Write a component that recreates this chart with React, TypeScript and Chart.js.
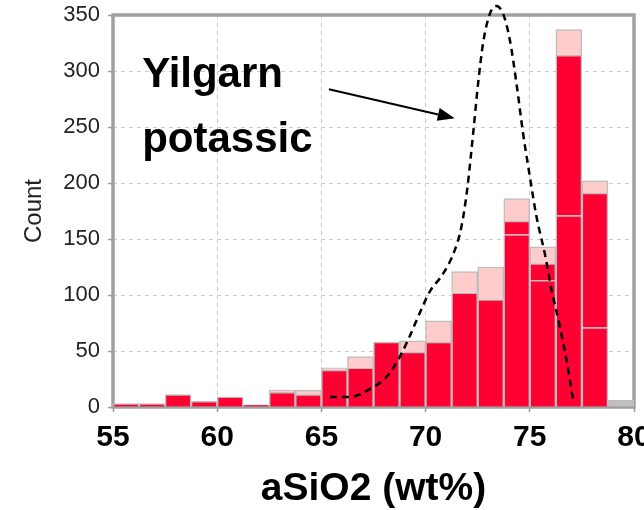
import React, { useEffect, useRef } from "react";
import { Chart, registerables } from "chart.js";

Chart.register(...registerables);

// ---------- data ----------
// histogram bins (1.25 wt% wide), given by their centres
const binCenters = [
  55.625, 56.875, 58.125, 59.375, 60.625, 61.875, 63.125, 64.375, 65.625, 66.875,
  68.125, 69.375, 70.625, 71.875, 73.125, 74.375, 75.625, 76.875, 78.125, 79.375,
];
const lowerRed = [3, 3, 11, 5, 9, 2, 13, 11, 33, 35, 58, 49, 58, 102, 96, 154, 113, 171, 71, 0];
const upperRed = [0, 0, 0, 0, 0, 0, 0, 0, 0, 0, 0, 0, 0, 0, 0, 12, 15, 143, 120, 0];
const pinkTop = [0, 0, 0, 0, 0, 0, 2, 4, 2, 10, 0, 10, 19, 19, 29, 20, 15, 23, 11, 0];
const greyOther = [0, 0, 0, 0, 0, 0, 0, 0, 0, 0, 0, 0, 0, 0, 0, 0, 0, 0, 0, 6];

// "Yilgarn potassic" outline curve (wt%, count)
const curveX = [
  65.41, 66.37, 67.33, 68.13, 68.68, 69.16, 69.72, 70.2, 70.84, 71.4, 71.72, 72.0, 72.28,
  72.52, 72.76, 73.08, 73.4, 73.72, 74.04, 74.36, 74.68, 75.0, 75.32, 75.72, 76.04, 76.44,
  76.76, 77.08,
];
const curveY = [
  9, 9, 16, 27, 42, 60, 84, 103, 119, 140, 161, 195, 244, 289, 325, 351, 358, 351, 328, 289,
  244, 206, 170, 137, 105, 72, 42, 6,
];

const xTicks = [55, 60, 65, 70, 75, 80];
const yTicks = [0, 50, 100, 150, 200, 250, 300, 350];

const noteLines = ["Yilgarn", "potassic"];

// ---------- annotation anchors (data coordinates) ----------
const NOTE_X = 56.4;
const NOTE_BASELINES = [286, 228];
const ARROW_FROM = { x: 65.36, y: 283.7 };
const ARROW_TO = { x: 71.4, y: 257.8 };

// ---------- styles ----------
const FONT = '"Liberation Sans", Arial, Helvetica, sans-serif';
const RED = "#ff0033";
const PINK = "#ffcccc";
const GREY = "#c0c0c0";
const EDGE = "#bdbdbd";

export default function App() {
  const ref = useRef<HTMLCanvasElement>(null);

  useEffect(() => {
    const canvas = ref.current;
    if (!canvas) return;

    const bars = (vals: number[]) =>
      binCenters.map((x, i) => ({ x, y: vals[i] === 0 ? null : vals[i] }));

    const overlay = {
      id: "overlay",
      beforeDatasetsDraw(chart: any) {
        const { ctx, chartArea } = chart;
        ctx.save();
        ctx.strokeStyle = "#a0a0a0";
        ctx.lineWidth = 3.5;
        ctx.strokeRect(
          chartArea.left,
          chartArea.top,
          chartArea.right - chartArea.left,
          chartArea.bottom - chartArea.top
        );
        ctx.restore();
      },
      afterDatasetsDraw(chart: any) {
        const { ctx } = chart;
        const xs = chart.scales.x;
        const ys = chart.scales.y;
        ctx.save();
        // text
        ctx.fillStyle = "#000";
        ctx.font = `bold 42px ${FONT}`;
        ctx.textAlign = "left";
        ctx.textBaseline = "alphabetic";
        noteLines.forEach((t, i) => {
          ctx.fillText(t, xs.getPixelForValue(NOTE_X), ys.getPixelForValue(NOTE_BASELINES[i]));
        });
        // arrow
        const x0 = xs.getPixelForValue(ARROW_FROM.x);
        const y0 = ys.getPixelForValue(ARROW_FROM.y);
        const x1 = xs.getPixelForValue(ARROW_TO.x);
        const y1 = ys.getPixelForValue(ARROW_TO.y);
        const ang = Math.atan2(y1 - y0, x1 - x0);
        const headLen = 17;
        const headHalf = 6.5;
        const bx = x1 - headLen * Math.cos(ang);
        const by = y1 - headLen * Math.sin(ang);
        ctx.strokeStyle = "#000";
        ctx.lineWidth = 2;
        ctx.beginPath();
        ctx.moveTo(x0, y0);
        ctx.lineTo(bx, by);
        ctx.stroke();
        ctx.beginPath();
        ctx.moveTo(x1, y1);
        ctx.lineTo(bx + headHalf * Math.sin(ang), by - headHalf * Math.cos(ang));
        ctx.lineTo(bx - headHalf * Math.sin(ang), by + headHalf * Math.cos(ang));
        ctx.closePath();
        ctx.fill();
        ctx.restore();
      },
    };

    const barCommon = {
      borderColor: EDGE,
      borderWidth: 1.5,
      barPercentage: 1,
      categoryPercentage: 1,
      order: 1,
      stack: "hist",
    };

    const chart = new Chart(canvas, {
      type: "bar",
      data: {
        datasets: [
          {
            type: "line",
            label: "Yilgarn potassic",
            data: curveX.map((x, i) => ({ x, y: curveY[i] })),
            borderColor: "#000",
            borderWidth: 2.5,
            borderDash: [7, 5],
            pointRadius: 0,
            fill: false,
            cubicInterpolationMode: "monotone",
            clip: false,
            order: 0,
            stack: "curve",
          } as any,
          { ...barCommon, label: "lower", data: bars(lowerRed), backgroundColor: RED } as any,
          { ...barCommon, label: "upper", data: bars(upperRed), backgroundColor: RED } as any,
          { ...barCommon, label: "pink", data: bars(pinkTop), backgroundColor: PINK } as any,
          { ...barCommon, label: "other", data: bars(greyOther), backgroundColor: GREY } as any,
        ],
      },
      options: {
        responsive: false,
        animation: false,
        devicePixelRatio: 1,
        layout: { padding: { top: 15, right: 10, left: 0, bottom: 0 } },
        plugins: {
          legend: { display: false },
          tooltip: { enabled: false },
        },
        scales: {
          x: {
            type: "linear",
            min: 55,
            max: 80,
            offset: false,
            stacked: true,
            grid: {
              offset: false,
              color: "#cccccc",
              lineWidth: 1,
              tickLength: 5,
              tickColor: "#999999",
              tickWidth: 1.5,
            },
            border: { display: false, dash: [4, 4] },
            ticks: {
              font: { family: FONT, size: 30, weight: "bold", lineHeight: 1.2 },
              color: "#000",
              padding: 8,
              maxRotation: 0,
              autoSkip: false,
            },
            afterBuildTicks: (s: any) => {
              s.ticks = xTicks.map((v) => ({ value: v }));
            },
            afterFit: (s: any) => {
              s.height = 103;
              s.paddingLeft = 0;
              s.paddingRight = 0;
            },
            title: {
              display: true,
              text: "aSiO2 (wt%)",
              font: { family: FONT, size: 39, weight: "bold", lineHeight: 1 },
              color: "#000",
              padding: { top: 0, bottom: 1 },
            },
          },
          y: {
            min: 0,
            max: 350,
            stacked: true,
            grid: {
              color: "#cccccc",
              lineWidth: 1,
              tickLength: 5,
              tickColor: "#999999",
              tickWidth: 1.5,
            },
            border: { display: false, dash: [4, 4] },
            ticks: {
              font: { family: FONT, size: 22, lineHeight: 1.2 },
              color: "#222",
              padding: 8,
            },
            afterBuildTicks: (s: any) => {
              s.ticks = yTicks.map((v) => ({ value: v }));
            },
            afterFit: (s: any) => {
              s.width = 113;
              s.paddingTop = 0;
              s.paddingBottom = 0;
            },
            title: {
              display: true,
              text: "Count",
              font: { family: FONT, size: 24, lineHeight: 1.2 },
              color: "#222",
              padding: { top: 20, bottom: 0 },
            },
          },
        },
      } as any,
      plugins: [overlay],
    });

    return () => chart.destroy();
  }, []);

  return (
    <div style={{ position: "absolute", left: 0, top: 0, width: 644, height: 510 }}>
      <canvas ref={ref} width={644} height={510} style={{ display: "block" }} />
    </div>
  );
}
